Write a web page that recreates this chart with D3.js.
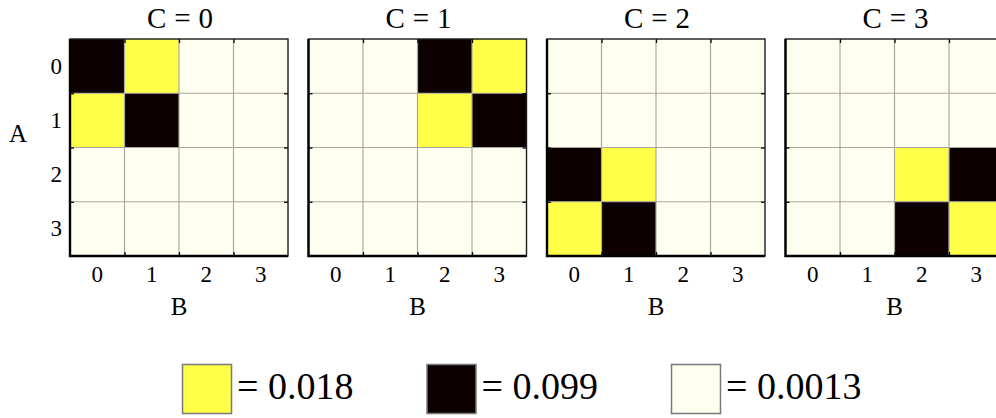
<!DOCTYPE html>
<html>
<head>
<meta charset="utf-8">
<script src="https://cdn.jsdelivr.net/npm/d3@7"></script>
<style>
  html, body { margin: 0; padding: 0; background: #ffffff; }
  svg { display: block; }
  text { font-family: "Liberation Serif", "DejaVu Serif", serif; fill: #000; }
</style>
</head>
<body>
<svg id="chart" width="996" height="418"></svg>
<script>
// Axis categories
const rowsA = [0, 1, 2, 3];
const colsB = [0, 1, 2, 3];
const slicesC = [0, 1, 2, 3];

// Probability table P(A, B | C = c), one 4x4 matrix per slice (rows = A, cols = B)
const sliceC0 = [
  [0.099, 0.018, 0.0013, 0.0013],
  [0.018, 0.099, 0.0013, 0.0013],
  [0.0013, 0.0013, 0.0013, 0.0013],
  [0.0013, 0.0013, 0.0013, 0.0013]
];
const sliceC1 = [
  [0.0013, 0.0013, 0.099, 0.018],
  [0.0013, 0.0013, 0.018, 0.099],
  [0.0013, 0.0013, 0.0013, 0.0013],
  [0.0013, 0.0013, 0.0013, 0.0013]
];
const sliceC2 = [
  [0.0013, 0.0013, 0.0013, 0.0013],
  [0.0013, 0.0013, 0.0013, 0.0013],
  [0.099, 0.018, 0.0013, 0.0013],
  [0.018, 0.099, 0.0013, 0.0013]
];
const sliceC3 = [
  [0.0013, 0.0013, 0.0013, 0.0013],
  [0.0013, 0.0013, 0.0013, 0.0013],
  [0.0013, 0.0013, 0.018, 0.099],
  [0.0013, 0.0013, 0.099, 0.018]
];
const slices = [sliceC0, sliceC1, sliceC2, sliceC3];

// Distinct probability levels shown in the legend
const legendValues = [0.018, 0.099, 0.0013];
const legendLabels = ["= 0.018", "= 0.099", "= 0.0013"];

const svg = d3.select("#chart");

const color = d3.scaleOrdinal()
  .domain([0.018, 0.099, 0.0013])
  .range(["#ffff48", "#0c0000", "#fffff0"]);

const panelW = 218, panelH = 217;
const panelX = d3.scaleBand().domain(slicesC).range([70, 70 + 4 * 238.5]).paddingInner(0);
const top0 = 39;

const x = d3.scaleBand().domain(colsB).range([0, panelW]);
const y = d3.scaleBand().domain(rowsA).range([0, panelH]);
// continuous scales for cell boundaries (ticks + grid)
const xEdge = d3.scaleLinear().domain([-0.5, 3.5]).range([0, panelW]);
const yEdge = d3.scaleLinear().domain([-0.5, 3.5]).range([0, panelH]);
const edges = [0.5, 1.5, 2.5];

slicesC.forEach((c, ci) => {
  const g = svg.append("g").attr("transform", `translate(${panelX(c)},${top0})`);
  const cells = [];
  slices[ci].forEach((row, r) => row.forEach((v, k) => cells.push({ a: rowsA[r], b: colsB[k], v })));

  g.selectAll("rect.cell").data(cells).join("rect")
    .attr("class", "cell")
    .attr("x", d => x(d.b)).attr("y", d => y(d.a))
    .attr("width", x.bandwidth()).attr("height", y.bandwidth())
    .attr("fill", d => color(d.v));

  // grid lines between cells
  g.selectAll("line.gx").data(edges).join("line").attr("class", "gx")
    .attr("x1", d => xEdge(d)).attr("x2", d => xEdge(d))
    .attr("y1", 0).attr("y2", panelH)
    .attr("stroke", "#a9a9a2").attr("stroke-width", 1.2);
  g.selectAll("line.gy").data(edges).join("line").attr("class", "gy")
    .attr("y1", d => yEdge(d)).attr("y2", d => yEdge(d))
    .attr("x1", 0).attr("x2", panelW)
    .attr("stroke", "#a9a9a2").attr("stroke-width", 1.2);

  // inward tick marks at cell boundaries on all four sides
  const tickAxis = (axisFn, scale) => axisFn(scale).tickValues(edges).tickFormat("").tickSizeInner(-4).tickSizeOuter(0);
  const mk = (tr, ax) => {
    const a = g.append("g").attr("transform", tr).call(ax);
    a.select(".domain").remove();
    a.selectAll(".tick line").attr("stroke", "#000").attr("stroke-width", 1.3);
  };
  mk(`translate(0,${panelH})`, tickAxis(d3.axisBottom, xEdge));
  mk(`translate(0,0)`, tickAxis(d3.axisTop, xEdge));
  mk(`translate(0,0)`, tickAxis(d3.axisLeft, yEdge));
  mk(`translate(${panelW},0)`, tickAxis(d3.axisRight, yEdge));

  // frame
  g.append("rect").attr("x", 0).attr("y", 0).attr("width", panelW).attr("height", panelH)
    .attr("fill", "none").attr("stroke", "#1a1a1a").attr("stroke-width", 1.4);
  g.append("path").attr("d", `M0,0V${panelH}H${panelW}`)
    .attr("fill", "none").attr("stroke", "#000").attr("stroke-width", 2.4);

  // B tick labels
  const xa = g.append("g").attr("transform", `translate(0,${panelH})`)
    .call(d3.axisBottom(x).tickSize(0).tickPadding(10));
  xa.select(".domain").remove();
  xa.attr("font-family", null).attr("font-size", null);
  xa.selectAll("text").style("font-size", "23px");

  // A tick labels only on the first panel
  if (ci === 0) {
    const ya = g.append("g").call(d3.axisLeft(y).tickSize(0).tickPadding(8));
    ya.select(".domain").remove();
    ya.attr("font-family", null).attr("font-size", null);
    ya.selectAll("text").style("font-size", "23px");
    svg.append("text").attr("x", 18).attr("y", 142).attr("text-anchor", "middle")
      .style("font-size", "25px").text("A");
  }

  g.append("text").attr("x", panelW / 2).attr("y", 315 - top0).attr("text-anchor", "middle")
    .style("font-size", "25px").text("B");

  const t = g.append("text").attr("x", panelW / 2 + 1).attr("y", 28 - top0).attr("text-anchor", "middle")
    .style("font-size", "29px");
  t.append("tspan").text("C");
  t.append("tspan").attr("dx", 8).text("=");
  t.append("tspan").attr("dx", 8).text(String(c));
});

// legend
const legendX = d3.scalePoint().domain(legendValues).range([182, 671]);
const lg = svg.selectAll("g.legend").data(legendValues).join("g")
  .attr("class", "legend")
  .attr("transform", d => `translate(${legendX(d)},364)`);
lg.append("rect").attr("x", 0.5).attr("y", 0.5).attr("width", 49).attr("height", 49)
  .attr("fill", d => color(d)).attr("stroke", "#7a7a7a").attr("stroke-width", 1.5);
lg.append("text").attr("x", 55).attr("y", 35).style("font-size", "38px")
  .text((d, i) => legendLabels[i]);
</script>
</body>
</html>
